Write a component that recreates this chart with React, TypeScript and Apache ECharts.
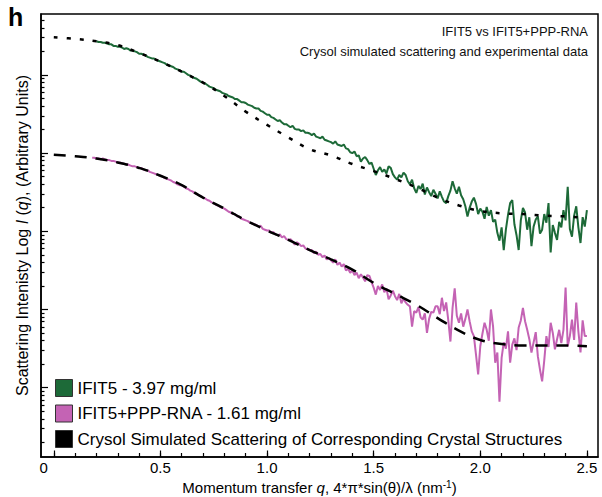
import React, { useEffect, useRef } from "react";
import * as echarts from "echarts";

// q grid of experimental curves (nm^-1)
const ifit5QStart = 0.2;
const pppRnaQStart = 0.18;
const qStep = 0.01;

// log10 I(q), arbitrary units, IFIT5 - 3.97 mg/ml (q = 0.20 .. 2.50)
const ifit5LogI = [
  4.43, 4.42, 4.42, 4.41, 4.41, 4.40, 4.39, 4.39, 4.37, 4.37,
  4.36, 4.36, 4.35, 4.33, 4.34, 4.33, 4.31, 4.31, 4.30, 4.29,
  4.27, 4.27, 4.26, 4.25, 4.23, 4.22, 4.21, 4.21, 4.19, 4.18,
  4.17, 4.16, 4.15, 4.13, 4.12, 4.11, 4.10, 4.08, 4.07, 4.06,
  4.04, 4.04, 4.02, 4.00, 3.99, 3.97, 3.96, 3.95, 3.93, 3.91,
  3.90, 3.89, 3.87, 3.85, 3.84, 3.83, 3.81, 3.80, 3.79, 3.77,
  3.76, 3.75, 3.73, 3.72, 3.71, 3.69, 3.69, 3.67, 3.65, 3.65,
  3.64, 3.62, 3.61, 3.60, 3.58, 3.57, 3.57, 3.54, 3.53, 3.51,
  3.49, 3.49, 3.46, 3.45, 3.43, 3.41, 3.42, 3.39, 3.37, 3.37,
  3.35, 3.33, 3.35, 3.31, 3.30, 3.30, 3.28, 3.29, 3.26, 3.26,
  3.25, 3.23, 3.25, 3.21, 3.20, 3.19, 3.21, 3.17, 3.16, 3.15,
  3.14, 3.12, 3.15, 3.11, 3.10, 3.09, 3.11, 3.06, 3.05, 3.01,
  3.00, 3.02, 2.96, 2.97, 2.89, 2.93, 2.95, 2.91, 2.86, 2.88,
  2.80, 2.72, 2.78, 2.82, 2.76, 2.79, 2.74, 2.83, 2.81, 2.73,
  2.69, 2.66, 2.72, 2.69, 2.75, 2.72, 2.64, 2.60, 2.66, 2.55,
  2.49, 2.58, 2.54, 2.61, 2.47, 2.56, 2.50, 2.45, 2.53, 2.48,
  2.42, 2.51, 2.44, 2.38, 2.36, 2.45, 2.52, 2.64, 2.55, 2.48,
  2.57, 2.46, 2.41, 2.32, 2.19, 2.30, 2.38, 2.43, 2.35, 2.22,
  2.29, 2.25, 2.16, 2.31, 2.20, 2.27, 2.12, 2.15, 1.98, 1.88,
  2.05, 1.76, 2.02, 2.21, 2.36, 2.40, 2.09, 1.95, 1.76, 2.14,
  2.30, 2.24, 2.02, 2.18, 1.81, 2.06, 2.15, 2.19, 1.97, 2.02,
  2.22, 2.11, 2.36, 1.73, 2.08, 1.98, 1.89, 2.12, 2.05, 2.27,
  2.14, 2.57, 2.03, 1.93, 2.20, 2.32, 2.05, 1.85, 2.18, 2.06,
  2.27,
];

// log10 I(q), IFIT5+PPP-RNA - 1.61 mg/ml (q = 0.18 .. 2.50)
const pppRnaLogI = [
  2.94, 2.94,
  2.93, 2.93, 2.92, 2.93, 2.92, 2.91, 2.91, 2.90, 2.90, 2.89,
  2.88, 2.88, 2.87, 2.86, 2.86, 2.85, 2.84, 2.83, 2.83, 2.82,
  2.81, 2.81, 2.79, 2.78, 2.78, 2.76, 2.75, 2.74, 2.73, 2.72,
  2.71, 2.70, 2.68, 2.67, 2.66, 2.65, 2.63, 2.62, 2.60, 2.59,
  2.59, 2.57, 2.55, 2.54, 2.52, 2.51, 2.49, 2.48, 2.46, 2.45,
  2.43, 2.42, 2.40, 2.39, 2.37, 2.36, 2.34, 2.33, 2.31, 2.30,
  2.29, 2.27, 2.25, 2.24, 2.22, 2.22, 2.19, 2.19, 2.16, 2.15,
  2.14, 2.13, 2.11, 2.10, 2.09, 2.08, 2.06, 2.07, 2.03, 2.02,
  2.01, 2.01, 1.98, 1.99, 1.96, 1.95, 1.96, 1.92, 1.94, 1.90,
  1.89, 1.90, 1.87, 1.83, 1.86, 1.84, 1.81, 1.82, 1.78, 1.77,
  1.76, 1.76, 1.72, 1.74, 1.70, 1.71, 1.67, 1.69, 1.64, 1.66,
  1.63, 1.60, 1.64, 1.57, 1.60, 1.55, 1.58, 1.50, 1.52, 1.47,
  1.50, 1.44, 1.47, 1.40, 1.45, 1.41, 1.36, 1.44, 1.43, 1.35,
  1.28, 1.19, 1.30, 1.25, 1.32, 1.22, 1.27, 1.13, 1.18, 1.24,
  1.17, 1.12, 1.20, 1.08, 1.14, 1.09, 1.06, 1.04, 0.78, 0.98,
  0.96, 1.03, 0.90, 0.87, 0.95, 0.70, 0.88, 0.97, 0.96, 1.04,
  1.04, 0.94, 1.15, 0.98, 1.09, 0.86, 0.59, 1.02, 1.27, 0.92,
  0.83, 0.95, 0.78, 0.88, 1.00, 0.85, 0.72, 0.66, 0.42, 0.17,
  0.53, 0.69, 0.83, 0.74, 0.60, 1.00, 0.78, 0.32, 0.45, -0.18,
  0.38, 0.58, 0.50, 0.72, 0.32, 0.55, 0.63, 0.48, 0.77, 0.86,
  1.02, 0.85, 0.74, 0.62, 0.45, 0.58, 0.71, 0.40, 0.23, 0.08,
  0.35, 0.66, 0.52, 0.83, 0.70, 0.49, 0.62, 0.74, 0.57, 0.74,
  1.28, 0.53, 0.66, 0.87, 0.61, 1.09, 0.72, 0.45, 0.86, 0.66,
  0.66,
];

// Crysol simulated curves
const simQ = [
  0, 0.1, 0.2, 0.3, 0.4, 0.5, 0.6, 0.7, 0.8, 0.9, 1.0, 1.1, 1.2,
  1.3, 1.4, 1.5, 1.6, 1.7, 1.8, 1.9, 2.0, 2.1, 2.2, 2.3, 2.4, 2.5,
];
const simIfit5LogI = [
  4.48, 4.46, 4.43, 4.38, 4.28, 4.17, 4.04, 3.90, 3.73, 3.53, 3.36, 3.20, 3.05,
  2.97, 2.86, 2.77, 2.67, 2.56, 2.43, 2.33, 2.26, 2.23, 2.22, 2.20, 2.19, 2.17,
];
const simPppRnaLogI = [
  2.98, 2.96, 2.93, 2.88, 2.81, 2.71, 2.59, 2.43, 2.29, 2.14, 2.01, 1.89, 1.76,
  1.64, 1.51, 1.34, 1.20, 1.06, 0.89, 0.73, 0.61, 0.56, 0.54, 0.54, 0.54, 0.53,
];

// axes
const xMinorTicks = [
  0, 0.1, 0.2, 0.3, 0.4, 0.5, 0.6, 0.7, 0.8, 0.9, 1.0, 1.1, 1.2, 1.3, 1.4,
  1.5, 1.6, 1.7, 1.8, 1.9, 2.0, 2.1, 2.2, 2.3, 2.4, 2.5,
];
const xMajorTicks = [0, 0.5, 1.0, 1.5, 2.0, 2.5];
const xTickLabels = ["0", "0.5", "1.0", "1.5", "2.0", "2.5"];
const yMinorTicks = [
  0.2, 0.3, 0.4, 0.5, 0.6, 0.7, 0.8, 0.9,
  2, 3, 4, 5, 6, 7, 8, 9,
  20, 30, 40, 50, 60, 70, 80, 90,
  200, 300, 400, 500, 600, 700, 800, 900,
  2000, 3000, 4000, 5000, 6000, 7000, 8000, 9000,
  20000, 30000, 40000, 50000,
];
const yMajorTicks = [1, 10, 100, 1000, 10000];

const names = {
  ifit5: "IFIT5 - 3.97 mg/ml",
  ppp: "IFIT5+PPP-RNA - 1.61 mg/ml",
  sim: "Crysol Simulated Scattering of Corresponding Crystal Structures",
};

const GREEN = "#1d6a38";
const PINK = "#c463b4";
const FONT = "'Liberation Sans', Arial, Helvetica, sans-serif";

const X_MIN = -0.06;
const X_MAX = 2.552;
const Y_MIN = 0.13;
const Y_MAX = 60000;

export default function App() {
  const ref = useRef<HTMLDivElement>(null);

  useEffect(() => {
    if (!ref.current) return;
    const chart = echarts.init(ref.current, null, { renderer: "svg" });

    const toPoints = (start: number, arr: number[]) =>
      arr.map((v, i) => [Number((start + i * qStep).toFixed(2)), Math.pow(10, v)]);
    const simPoints = (arr: number[]) => arr.map((v, i) => [simQ[i], Math.pow(10, v)]);

    const xAxisBase = {
      type: "value",
      min: X_MIN,
      max: X_MAX,
      splitLine: { show: false },
      gridIndex: 0,
      position: "bottom",
    };
    const yAxisBase = {
      type: "log",
      logBase: 10,
      min: Y_MIN,
      max: Y_MAX,
      splitLine: { show: false },
      minorTick: { show: false },
      gridIndex: 0,
      position: "left",
    };
    const tickLine = { color: "#000", width: 1.2 };
    const tickOnlyX = (len: number, vals: number[]) => ({
      ...xAxisBase,
      axisLine: { show: false, onZero: false },
      axisTick: { show: true, inside: true, length: len, customValues: vals, lineStyle: tickLine },
      axisLabel: { show: false },
    });
    const tickOnlyY = (len: number, vals: number[]) => ({
      ...yAxisBase,
      axisLine: { show: false, onZero: false },
      axisTick: { show: true, inside: true, length: len, customValues: vals, lineStyle: tickLine },
      axisLabel: { show: false },
    });

    chart.setOption({
      animation: false,
      backgroundColor: "#fff",
      textStyle: { fontFamily: FONT },
      grid: {
        left: 41,
        right: 4,
        top: 14,
        bottom: 40,
        show: true,
        borderColor: "#000",
        borderWidth: 1.5,
        containLabel: false,
        outerBoundsMode: "none",
      },
      graphic: [
        {
          type: "text",
          left: 8,
          top: 4,
          style: { text: "h", font: `bold 25px ${FONT}`, fill: "#000" },
        },
        {
          type: "text",
          right: 14,
          top: 25,
          style: { text: "IFIT5 vs IFIT5+PPP-RNA", font: `13px ${FONT}`, fill: "#111" },
        },
        {
          type: "text",
          right: 14,
          top: 45,
          style: { text: "Crysol simulated scattering and experimental data", font: `13px ${FONT}`, fill: "#111" },
        },
      ],
      legend: {
        orient: "vertical",
        left: 55,
        top: 379,
        padding: 0,
        itemWidth: 17,
        itemHeight: 17,
        itemGap: 7.5,
        icon: "rect",
        selectedMode: false,
        itemStyle: { borderColor: "#333", borderWidth: 1 },
        textStyle: { fontFamily: FONT, fontSize: 17, color: "#000" },
        data: [
          { name: names.ifit5, itemStyle: { color: GREEN } },
          { name: names.ppp, itemStyle: { color: PINK } },
          { name: names.sim, itemStyle: { color: "#000" } },
        ],
      },
      xAxis: [
        {
          ...xAxisBase,
          name: "{a|Momentum transfer }{i|q}{a|, 4*π*sin(θ)/λ (nm}{s|-1}{a|)}",
          nameLocation: "middle",
          nameGap: 20,
          nameTextStyle: {
            rich: {
              a: { fontFamily: FONT, fontSize: 15, color: "#000", lineHeight: 16 },
              i: { fontFamily: FONT, fontSize: 15, color: "#000", fontStyle: "italic", lineHeight: 16 },
              s: { fontFamily: FONT, fontSize: 10, color: "#000", lineHeight: 16, verticalAlign: "top" },
            },
          },
          axisLine: { show: true, onZero: false, lineStyle: { color: "#000", width: 1.5 } },
          axisTick: { show: false },
          axisLabel: {
            show: true,
            margin: 3,
            customValues: xMajorTicks,
            fontFamily: FONT,
            fontSize: 15,
            color: "#000",
            formatter: (v: number) => {
              const idx = xMajorTicks.findIndex((t) => Math.abs(t - v) < 1e-6);
              const lab = idx >= 0 ? xTickLabels[idx] : String(v);
              return idx === 0 ? `{z|${lab}}` : lab;
            },
            rich: { z: { fontFamily: FONT, fontSize: 15, color: "#000", padding: [0, 20, 0, 0] } },
          },
        },
        tickOnlyX(4, xMinorTicks),
        tickOnlyX(6.5, xMajorTicks),
      ],
      yAxis: [
        {
          ...yAxisBase,
          name: "{a|Scattering Intenisty Log }{i|I}{a| (}{i|q}{a|), (Arbitrary Units)}",
          nameLocation: "middle",
          nameRotate: 90,
          nameGap: 11,
          nameTextStyle: {
            rich: {
              a: { fontFamily: FONT, fontSize: 16, color: "#000" },
              i: { fontFamily: FONT, fontSize: 16, color: "#000", fontStyle: "italic" },
            },
          },
          axisLine: { show: true, onZero: false, lineStyle: { color: "#000", width: 1.5 } },
          axisTick: { show: false },
          axisLabel: { show: false },
        },
        tickOnlyY(3.5, yMinorTicks),
        tickOnlyY(7, yMajorTicks),
      ],
      series: [
        {
          name: names.ifit5,
          type: "line",
          xAxisIndex: 0,
          yAxisIndex: 0,
          data: toPoints(ifit5QStart, ifit5LogI),
          showSymbol: false,
          symbol: "none",
          color: GREEN,
          lineStyle: { color: GREEN, width: 2 },
          z: 2,
        },
        {
          name: names.ppp,
          type: "line",
          xAxisIndex: 0,
          yAxisIndex: 0,
          data: toPoints(pppRnaQStart, pppRnaLogI),
          showSymbol: false,
          symbol: "none",
          color: PINK,
          lineStyle: { color: PINK, width: 2 },
          z: 2,
        },
        {
          name: names.sim,
          type: "line",
          xAxisIndex: 0,
          yAxisIndex: 0,
          data: simPoints(simIfit5LogI),
          showSymbol: false,
          symbol: "none",
          smooth: 0.4,
          color: "#000",
          lineStyle: { color: "#000", width: 2.5, type: [4, 9] },
          z: 3,
        },
        {
          name: names.sim,
          type: "line",
          xAxisIndex: 0,
          yAxisIndex: 0,
          data: simPoints(simPppRnaLogI),
          showSymbol: false,
          symbol: "none",
          smooth: 0.4,
          color: "#000",
          lineStyle: { color: "#000", width: 2.5, type: [12, 9] },
          z: 3,
        },
      ],
    });

    return () => chart.dispose();
  }, []);

  return (
    <div
      ref={ref}
      style={{ position: "fixed", left: 0, top: 0, width: 602, height: 497, background: "#fff" }}
    />
  );
}
